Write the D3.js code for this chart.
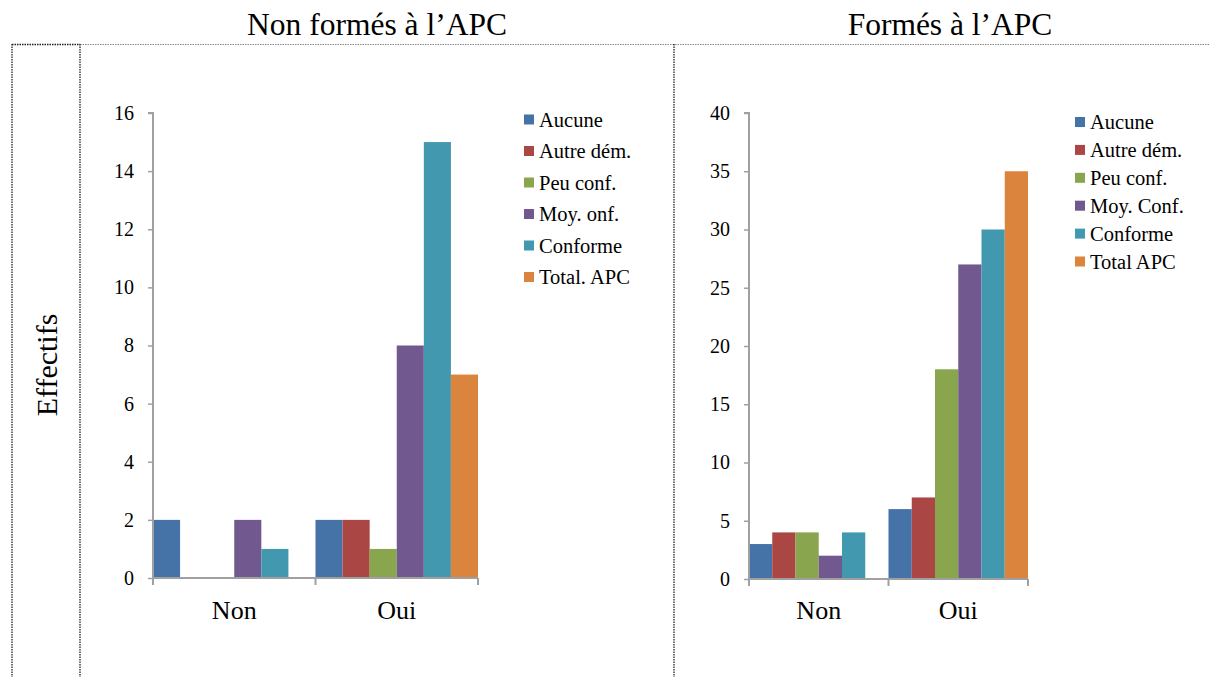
<!DOCTYPE html>
<html><head><meta charset="utf-8">
<script src="https://cdn.jsdelivr.net/npm/d3@7"></script>
<style>body{margin:0;background:#fff}svg{display:block;font-family:"Liberation Serif","Times New Roman",serif}</style>
</head><body><svg id="c" width="1210" height="677"></svg>
<script>
const categories = ["Non", "Oui"];
const seriesNames1 = ["Aucune", "Autre dém.", "Peu conf.", "Moy. onf.", "Conforme", "Total. APC"];
const seriesNames2 = ["Aucune", "Autre dém.", "Peu conf.", "Moy. Conf.", "Conforme", "Total APC"];
const colors = ["#4572A7", "#AA4643", "#89A54E", "#71588F", "#4198AF", "#DB843D"];
// values[series][category]
const values1 = [[2, 2], [0, 2], [0, 1], [2, 8], [1, 15], [0, 7]];
const values2 = [[3, 6], [4, 7], [4, 18], [2, 27], [4, 30], [0, 35]];
const ticks1 = [0, 2, 4, 6, 8, 10, 12, 14, 16];
const ticks2 = [0, 5, 10, 15, 20, 25, 30, 35, 40];
const titles = ["Non formés à l\u2019APC", "Formés à l\u2019APC"];
const yLabel = "Effectifs";

const svg = d3.select("#c");

// frame lines
const frame = svg.append("g");
frame.append("line").attr("x1", 12).attr("x2", 80).attr("y1", 44.5).attr("y2", 44.5)
  .attr("stroke", "#222").attr("stroke-width", 1.3).attr("stroke-dasharray", "1.5,1");
frame.append("line").attr("x1", 80).attr("x2", 1210).attr("y1", 44.5).attr("y2", 44.5)
  .attr("stroke", "#888").attr("stroke-width", 1).attr("stroke-dasharray", "1.5,1");
[12, 80, 674].forEach(x => frame.append("line").attr("x1", x).attr("x2", x).attr("y1", 44).attr("y2", 677)
  .attr("stroke", "#222").attr("stroke-width", 1.3).attr("stroke-dasharray", "1.5,1"));

svg.append("text").attr("transform", "translate(57,365) rotate(-90)").attr("text-anchor", "middle")
  .attr("font-size", 30).attr("fill", "#000").text(yLabel);

function chart(cfg) {
  const g = svg.append("g");
  g.append("text").attr("x", cfg.titleX).attr("y", 35).attr("text-anchor", "middle")
    .attr("font-size", 31.5).text(cfg.title);
  const y = d3.scaleLinear().domain([0, cfg.max]).range([cfg.y0, cfg.y1]);
  const x0 = d3.scaleBand().domain(categories).range([cfg.xL, cfg.xR]).paddingInner(0).paddingOuter(0);
  const x1 = d3.scaleBand().domain(d3.range(cfg.names.length)).range([0, x0.bandwidth()]).padding(0);

  cfg.values.forEach((vals, si) => {
    g.selectAll(null).data(categories).enter().append("rect")
      .attr("x", c => x0(c) + x1(si))
      .attr("width", x1.bandwidth())
      .attr("y", (c, ci) => y(vals[ci]))
      .attr("height", (c, ci) => cfg.y0 - y(vals[ci]))
      .attr("fill", colors[si]);
  });

  const yAxis = g.append("g").attr("transform", `translate(${cfg.xL},0)`)
    .call(d3.axisLeft(y).tickValues(cfg.ticks).tickSize(5).tickPadding(14).tickFormat(d3.format("d")));
  yAxis.select(".domain").attr("stroke", "#a0a0a0").attr("stroke-width", 2).attr("d", `M-5,${cfg.y1}H0V${cfg.y0}`);
  yAxis.selectAll(".tick line").attr("stroke", "#a0a0a0").attr("stroke-width", 1.5);
  yAxis.selectAll(".tick text").attr("font-size", 20).attr("fill", "#000").attr("font-family", "Liberation Serif");

  const xa = g.append("g");
  xa.append("line").attr("x1", cfg.xL).attr("x2", cfg.xR).attr("y1", cfg.y0).attr("y2", cfg.y0)
    .attr("stroke", "#a0a0a0").attr("stroke-width", 2);
  [cfg.xL, x0("Oui"), cfg.xR].forEach(x => xa.append("line").attr("x1", x).attr("x2", x)
    .attr("y1", cfg.y0).attr("y2", cfg.y0 + 7).attr("stroke", "#a0a0a0").attr("stroke-width", 2));
  categories.forEach(c => xa.append("text").attr("x", x0(c) + x0.bandwidth() / 2).attr("y", 619)
    .attr("text-anchor", "middle").attr("font-size", 26).text(c));

  const lg = g.append("g");
  cfg.names.forEach((n, i) => {
    const yy = cfg.legY + i * cfg.legStep;
    lg.append("rect").attr("x", cfg.legX).attr("y", yy - 5).attr("width", 10).attr("height", 10).attr("fill", colors[i]);
    lg.append("text").attr("x", cfg.legX + 15).attr("y", yy + 7).attr("font-size", 20.5).text(n);
  });
}

chart({ title: titles[0], titleX: 377, names: seriesNames1, values: values1, ticks: ticks1, max: 16,
  xL: 153, xR: 478, y0: 578, y1: 113, legX: 524, legY: 119.5, legStep: 31.5 });
chart({ title: titles[1], titleX: 950, names: seriesNames2, values: values2, ticks: ticks2, max: 40,
  xL: 749, xR: 1028, y0: 579, y1: 113, legX: 1075, legY: 122, legStep: 27.9 });
</script></body></html>
